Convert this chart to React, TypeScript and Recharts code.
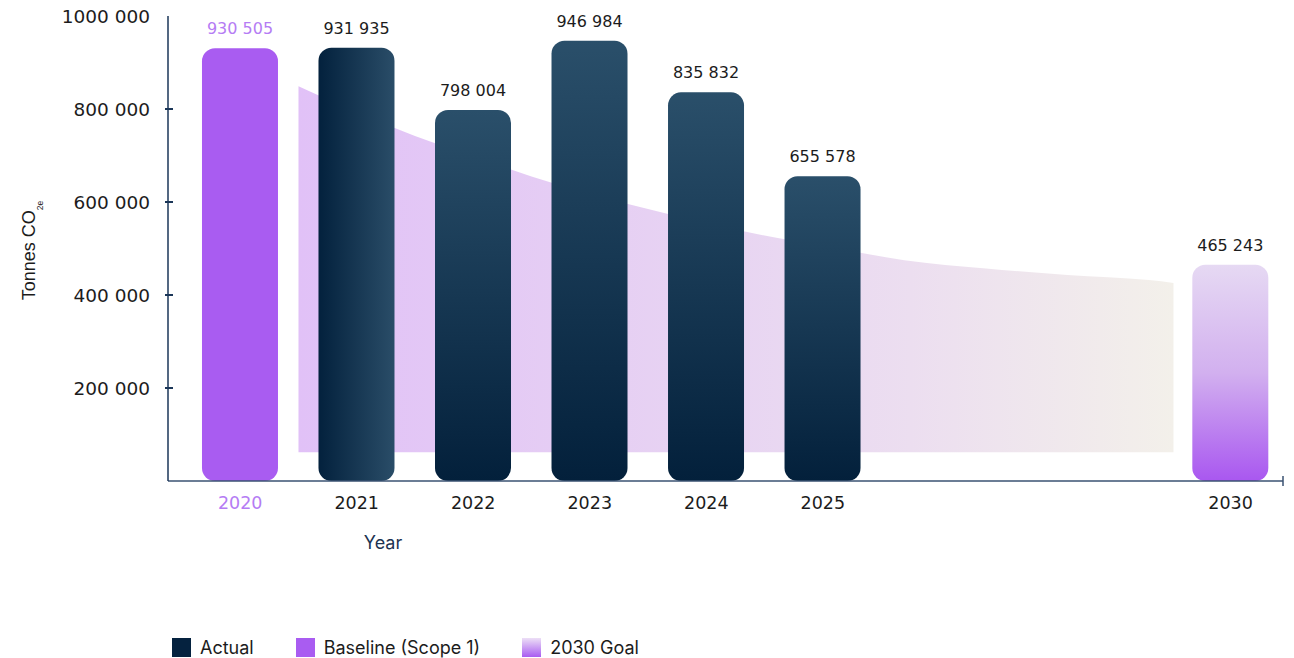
import React from 'react'
import { ComposedChart, Bar, Area, XAxis, YAxis, Cell, LabelList, Label } from 'recharts'

// emissions per reporting year (tonnes CO2e)
const YEARS = [2020, 2021, 2022, 2023, 2024, 2025, 2030]
const EMISSIONS = [930505, 931935, 798004, 946984, 835832, 655578, 465243]
const SERIES = ['baseline', 'actual', 'actual', 'actual', 'actual', 'actual', 'goal']

// reduction pathway band behind the bars
const PATH_YEARS = [2020.5, 2021, 2021.5, 2022, 2022.5, 2023, 2023.5, 2024, 2024.5, 2025, 2026, 2027, 2028, 2029, 2029.3]
const PATH_HIGH = [849000, 793000, 742000, 698000, 655000, 618000, 585000, 555000, 528000, 506000, 475000, 457000, 443000, 432000, 426000]
const PATH_LOW = [62000, 62000, 62000, 62000, 62000, 62000, 62000, 62000, 62000, 62000, 62000, 62000, 62000, 62000, 62000]

const Y_TICKS = [200000, 400000, 600000, 800000, 1000000]
const Y_MAX = 1000000

const NAVY = '#05223f'
const PURPLE = '#a95cf1'
const PURPLE_TEXT = '#b57cf4'
const INK = '#1c1c1c'
const AXIS = '#1b3658'
const AXIS_X = '#3a5272'
const NUM_FONT = '"DejaVu Sans", sans-serif'

// years after 2025 sit on a compressed stretch of the axis
const slotOf = (year: number) => (year <= 2025 ? year - 2020 : 5 + (year - 2025) * 0.7)
const X_MIN = -0.62
const X_MAX = 8.95
const X_TICKS = [...YEARS.map(slotOf), X_MAX]

const fmt = (v: number) => String(v).replace(/\B(?=(\d{3})+(?!\d))/g, ' ')
const fmtTick = (v: number) => `${v / 1000} 000`

const barRows = YEARS.map((year, i) => ({ x: slotOf(year), year, value: EMISSIONS[i], series: SERIES[i] }))
const pathRows = PATH_YEARS.map((year, i) => ({ px: slotOf(year), path: [PATH_LOW[i], PATH_HIGH[i]] }))

const fillFor = (r: any) => {
  if (r.series === 'baseline') return PURPLE
  if (r.series === 'goal') return 'url(#goalFill)'
  if (r.year === 2021) return 'url(#navyAcross)'
  return 'url(#navyDown)'
}

const XTick = ({ x, y, payload }: any) => {
  if (payload.value === X_MAX) {
    return <line x1={x} x2={x} y1={y - 5} y2={y + 5} stroke={AXIS_X} strokeWidth={1.5} />
  }
  const year = YEARS[X_TICKS.indexOf(payload.value)]
  return (
    <text x={x} y={y + 28} textAnchor="middle" fontFamily={NUM_FONT} fontSize={17.5}
      fill={year === 2020 ? PURPLE_TEXT : INK}>
      {year}
    </text>
  )
}

const YTick = ({ x, y, payload }: any) => (
  <g>
    {payload.value < Y_MAX && (
      <line x1={x + 15} x2={x + 23} y1={y} y2={y} stroke={AXIS} strokeWidth={2} />
    )}
    <text x={x} y={y + 7} textAnchor="end" fontFamily={NUM_FONT} fontSize={18.5} fill={INK}>
      {fmtTick(payload.value)}
    </text>
  </g>
)

const BarValue = ({ x, y, width, value, index }: any) => {
  if (value == null) return null
  const baseline = barRows[index]?.series === 'baseline'
  return (
    <text x={x + width / 2} y={y - 14} textAnchor="middle" fontFamily={NUM_FONT} fontSize={16}
      fill={baseline ? PURPLE_TEXT : INK}>
      {fmt(value)}
    </text>
  )
}

const YTitle = ({ viewBox }: any) => {
  const cx = viewBox.x + 27
  const cy = viewBox.y + viewBox.height / 2 + 2
  return (
    <text x={cx} y={cy} transform={`rotate(-90, ${cx}, ${cy})`} textAnchor="middle"
      fontFamily='"Liberation Sans", Arial, sans-serif' fontSize={18} fill={INK}>
      Tonnes CO<tspan dy={8} fontSize={8.5}>2e</tspan>
    </text>
  )
}

const XTitle = ({ viewBox }: any) => (
  <text x={viewBox.x + 215} y={viewBox.y + 68} textAnchor="middle"
    fontFamily='Inter, sans-serif' fontSize={18} fill="#1d3352">
    Year
  </text>
)

const LEGEND = [
  { label: 'Actual', swatch: NAVY },
  { label: 'Baseline (Scope 1)', swatch: PURPLE },
  { label: '2030 Goal', swatch: 'linear-gradient(to bottom, #ecdff6, #a95cf1)' },
]

export default function App() {
  return (
    <div style={{ position: 'fixed', left: 0, top: 0, width: 1294, height: 658, background: '#fff', overflow: 'hidden' }}>
      <ComposedChart width={1294} height={658} data={barRows}
        margin={{ top: 16, right: 11, bottom: 117, left: 8 }}>
        <defs>
          <linearGradient id="navyDown" x1="0" y1="0" x2="0" y2="1">
            <stop offset="0%" stopColor="#2a4f6a" />
            <stop offset="100%" stopColor="#03203b" />
          </linearGradient>
          <linearGradient id="navyAcross" x1="0" y1="0" x2="1" y2="0">
            <stop offset="0%" stopColor="#03213d" />
            <stop offset="100%" stopColor="#2a4d68" />
          </linearGradient>
          <linearGradient id="goalFill" x1="0" y1="0" x2="0" y2="1">
            <stop offset="0%" stopColor="#e6d9f3" />
            <stop offset="50%" stopColor="#d2b0ef" />
            <stop offset="100%" stopColor="#a957f0" />
          </linearGradient>
          <linearGradient id="pathFill" x1="0" y1="0" x2="1" y2="0">
            <stop offset="0%" stopColor="#e1c1f7" />
            <stop offset="50%" stopColor="#e8d5f2" />
            <stop offset="70%" stopColor="#ecdef0" />
            <stop offset="100%" stopColor="#f3f0ea" />
          </linearGradient>
        </defs>
        <XAxis type="number" dataKey="x" domain={[X_MIN, X_MAX]} ticks={X_TICKS} interval={0}
          allowDataOverflow tick={<XTick />} tickLine={false} tickSize={0} tickMargin={0} height={60}
          axisLine={{ stroke: AXIS_X, strokeWidth: 1.5 }}>
          <Label content={<XTitle />} />
        </XAxis>
        <XAxis xAxisId="path" type="number" dataKey="px" domain={[X_MIN, X_MAX]} allowDataOverflow hide />
        <YAxis type="number" domain={[0, Y_MAX]} ticks={Y_TICKS} interval={0} width={160}
          tick={<YTick />} tickLine={false} tickSize={0} tickMargin={18}
          axisLine={{ stroke: AXIS, strokeWidth: 1.5 }}>
          <Label content={<YTitle />} />
        </YAxis>
        <Area xAxisId="path" data={pathRows} dataKey="path" type="monotone" stroke="none"
          fill="url(#pathFill)" fillOpacity={1} dot={false} activeDot={false} isAnimationActive={false} />
        <Bar dataKey="value" barSize={76} radius={13} isAnimationActive={false}>
          {barRows.map((r, i) => (
            <Cell key={i} fill={fillFor(r)} />
          ))}
          <LabelList dataKey="value" content={<BarValue />} />
        </Bar>
      </ComposedChart>
      <div style={{ position: 'absolute', left: 172, top: 638, display: 'flex', gap: 42,
        fontFamily: 'Inter, sans-serif', fontSize: 18, color: INK, lineHeight: '19px' }}>
        {LEGEND.map((item) => (
          <div key={item.label} style={{ display: 'flex', alignItems: 'center', gap: 9 }}>
            <span style={{ width: 19, height: 19, background: item.swatch, display: 'inline-block' }} />
            <span>{item.label}</span>
          </div>
        ))}
      </div>
    </div>
  )
}
